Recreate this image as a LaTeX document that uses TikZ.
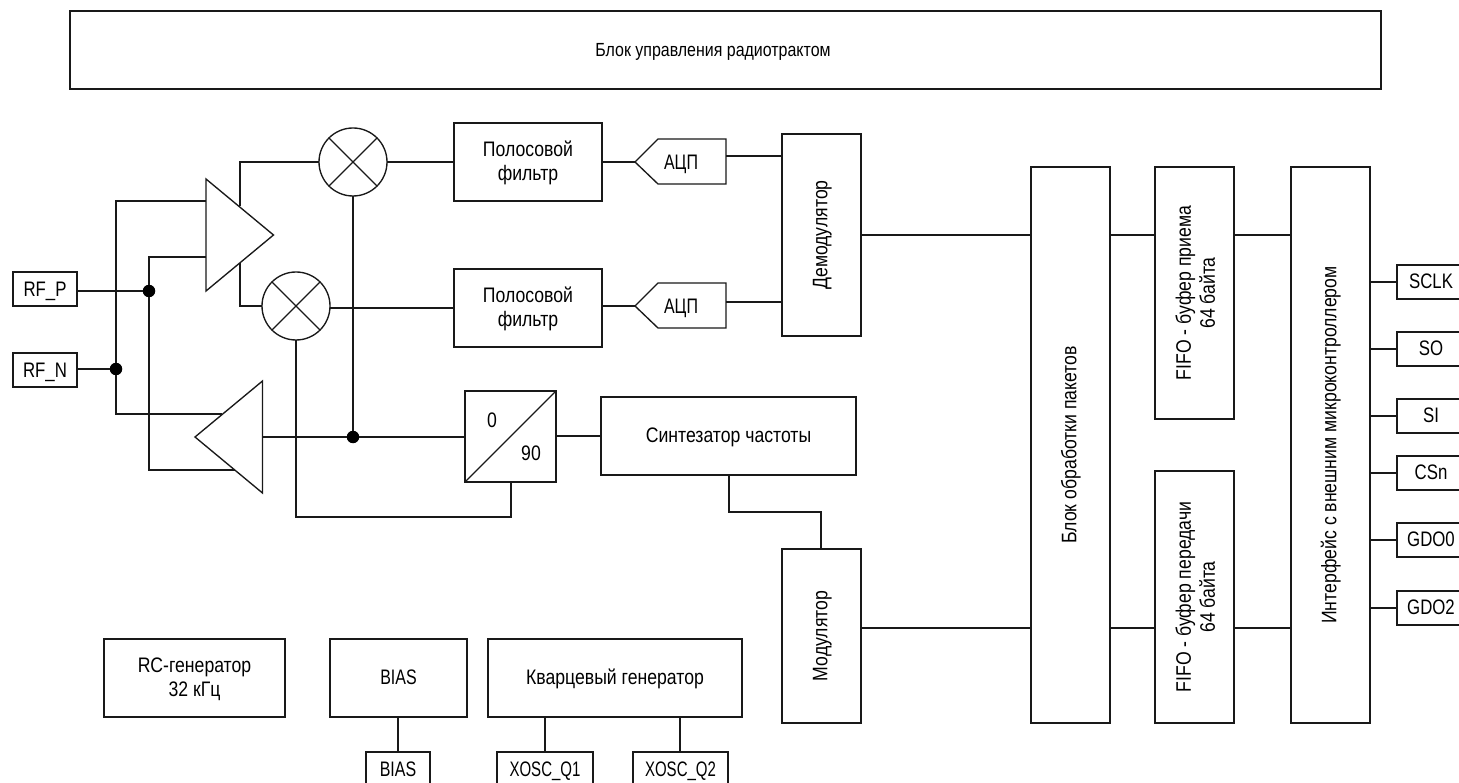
\documentclass[tikz,border=0pt]{standalone}
\usepackage{fontspec}
\setmainfont{Liberation Sans}[FakeStretch=0.84]
\newfontfamily\pinf{Liberation Sans}[FakeStretch=0.8]
\newfontfamily\biasf{Liberation Sans}[FakeStretch=0.76]
\newfontfamily\xoscf{Liberation Sans}[FakeStretch=0.715]
\tikzset{
 wire/.style={line width=1.35pt,black!90},
 hwire/.style={line width=2pt,black!90},
 box/.style={draw=black!90,line width=1.35pt,inner sep=0pt,outer sep=0pt,align=center,font=\fontsize{21}{24}\selectfont},
 hbox/.style={box,text depth=2.5pt},
 lbl/.style={inner sep=0pt,align=center,font=\fontsize{21}{24}\selectfont},
 mix/.style={draw=black!90,line width=1.35pt,circle,minimum size=68pt,inner sep=0pt,outer sep=0pt},
 junction/.style={circle,fill=black,minimum size=12.5pt,inner sep=0pt,outer sep=0pt}
}
% \bx: box with horizontal text; \bv: box with text turned by 90 degrees
\newcommand{\bx}[6]{\node[hbox,minimum width={(#4)-(#2)},minimum height={(#5)-(#3)}] (#1) at ({((#2)+(#4))/2},{((#3)+(#5))/2}) {#6};}
\newcommand{\bv}[7]{\node[box,minimum width={(#4)-(#2)},minimum height={(#5)-(#3)}] (#1) at ({((#2)+(#4))/2},{((#3)+(#5))/2}) {\hspace*{#6}\rotatebox{90}{\begin{tabular}{@{}c@{}}#7\end{tabular}}};}
\newcommand{\pn}[2][1.5pt]{\raisebox{-#1}{\pinf #2}}
\newcommand{\bs}[1]{\raisebox{-1pt}{\biasf #1}}
\newcommand{\xs}[1]{\raisebox{-1pt}{\xoscf #1}}
\begin{document}
\begin{tikzpicture}[x=1pt,y=-1pt]
\useasboundingbox (0,0) rectangle (1459,783);
\clip (0,0) rectangle (1459,783);
\renewcommand{\arraystretch}{1}
\setlength{\baselineskip}{24pt}
% boxes
\bx{ctrl}{70}{11}{1381}{89}{}
\node[lbl,font=\fontsize{19}{24}\selectfont] (ctrltext) at (713,52) {Блок управления радиотрактом};
\bx{rfp}{13}{272}{77}{306}{\pn[3pt]{RF\_P}}
\bx{rfn}{13}{353}{77}{387}{\pn[3pt]{RF\_N}}
\bx{fa}{454}{123}{602}{201}{Полосовой\\фильтр}
\bx{fb}{454}{269}{602}{347}{Полосовой\\фильтр}
\bv{demod}{782}{134}{861}{336}{2pt}{Демодулятор}
\bv{pkt}{1031}{167}{1110}{723}{2pt}{Блок обработки пакетов}
\bv{rx}{1155}{167}{1234}{419}{7pt}{FIFO - буфер приема\\64 байта}
\bv{tx}{1155}{471}{1234}{723}{7pt}{FIFO - буфер передачи\\64 байта}
\bv{mcu}{1291}{167}{1370}{723}{2pt}{Интерфейс с внешним микроконтроллером}
\bv{mod}{782}{549}{861}{723}{2pt}{Модулятор}
\bx{syn}{601}{397}{856}{475}{Синтезатор частоты}
\bx{ph}{465}{391}{556}{482}{}
\bx{rc}{104}{639}{285}{717}{RC-генератор\\32 кГц}
\bx{bias}{330}{639}{467}{717}{\bs{BIAS}}
\bx{xtal}{488}{639}{742}{717}{Кварцевый генератор}
\bx{pbias}{366}{752}{430}{788}{\bs{BIAS}}
\bx{qa}{497}{752}{593}{788}{\xs{XOSC\_Q1}}
\bx{qb}{633}{752}{728}{788}{\xs{XOSC\_Q2}}
\bx{sclk}{1397}{265}{1465}{299}{\pn{SCLK}}
\bx{so}{1397}{332}{1465}{366}{\pn{SO}}
\bx{si}{1397}{399}{1465}{433}{\pn{SI}}
\bx{csn}{1397}{456}{1465}{490}{\pn{CSn}}
\bx{gda}{1397}{523}{1465}{557}{\pn{GDO0}}
\bx{gdb}{1397}{591}{1465}{625}{\pn{GDO2}}
% 0/90
\draw[wire] (ph.south west) -- (ph.north east);
\node[lbl] (zero) at (492,420) {0};
\node[lbl] (ninety) at (531,453) {90};
% mixers
\node[mix] (ma) at (353,162) {};
\node[mix] (mb) at (296,306) {};
\draw[wire] (ma.45) -- (ma.225) (ma.135) -- (ma.315);
\draw[wire] (mb.45) -- (mb.225) (mb.135) -- (mb.315);
% amplifiers
\coordinate (a1t) at (206,179); \coordinate (a1b) at (206,291); \coordinate (a1o) at (273.5,235);
\coordinate (a2t) at (262.5,381); \coordinate (a2b) at (262.5,493); \coordinate (a2o) at (195,437);
\draw[wire,line join=miter] (a1t) -- (a1o) -- (a1b) -- cycle;
\draw[wire,line join=miter] (a2t) -- (a2o) -- (a2b) -- cycle;
% ADC
\coordinate (ad1) at (635,162); \coordinate (ad2) at (635,306);
\draw[wire] (ad1) -- (658,139) -- (726,139) -- (726,184) -- (658,184) -- cycle;
\draw[wire] (ad2) -- (658,283) -- (726,283) -- (726,328) -- (658,328) -- cycle;
\node[lbl] (adca) at (681,164) {\biasf АЦП};
\node[lbl] (adcb) at (681,308) {\biasf АЦП};
% junctions
\node[junction] (jp) at (149,291) {};
\node[junction] (jn) at (116,369) {};
\node[junction] (js) at (353,437) {};
% wiring
\draw[wire] (rfp.east|-jp) -- (jp);
\draw[wire] (rfn.east|-jn) -- (jn);
\coordinate (i1) at (206,201); \coordinate (i2) at (206,257);
\coordinate (o2) at (221.5,414); \coordinate (o3) at (235,470);
\draw[wire] (i1) -| (jn) |- (o2);
\draw[wire] (i2) -| (jp) |- (o3);
\coordinate (a1u) at (240,206.5); \coordinate (a1d) at (240,263.5);
\draw[wire] (a1u) |- (ma.west);
\draw[wire] (a1d) |- (mb.west);
\draw[wire] (ma.east) -- (fa.west);
\draw[wire] (mb.east|-0,308) -- (fb.west|-0,308);
\draw[wire] (fa.east|-ad1) -- (ad1);
\draw[wire] (fb.east|-ad2) -- (ad2);
\coordinate (d1) at (726,156); \coordinate (d2) at (726,302);
\draw[wire] (d1) -- (demod.west|-d1);
\draw[wire] (d2) -- (demod.west|-d2);
\draw[hwire] (ma.south) -- (js);
\draw[hwire] (js) -- (ph.west|-js);
\draw[wire] (a2t|-js) -- (js);
\draw[wire] (mb.south) |- (511,517) coordinate (c) -- (c|-ph.south);
\draw[wire] (ph.east|-0,436) -- (syn.west|-0,436);
\draw[wire] (729,475) -- (729,512) -- (821,512) -- (821,549);
\draw[wire] (demod.east|-0,235) -- (pkt.west|-0,235);
\draw[wire] (pkt.east|-0,235) -- (rx.west|-0,235);
\draw[wire] (rx.east|-0,235) -- (mcu.west|-0,235);
\draw[wire] (mod.east|-0,628) -- (pkt.west|-0,628);
\draw[wire] (pkt.east|-0,628) -- (tx.west|-0,628);
\draw[wire] (tx.east|-0,628) -- (mcu.west|-0,628);
\foreach \n in {sclk,so,si,csn,gda,gdb} \draw[wire] (mcu.east|-\n.west) -- (\n.west);
\draw[wire] (bias.south-|pbias.north) -- (pbias.north);
\draw[wire] (545,717) -- (545,752);
\draw[wire] (680,717) -- (680,752);
\end{tikzpicture}
\end{document}
